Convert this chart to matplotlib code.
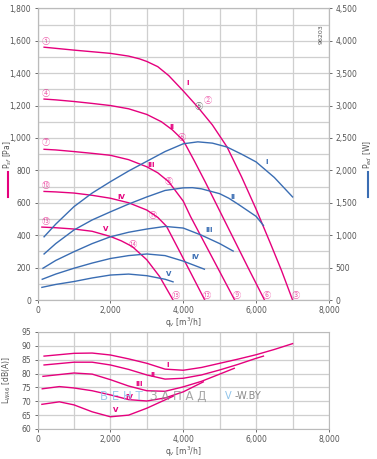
import matplotlib
matplotlib.use("Agg")
import matplotlib.pyplot as plt
from matplotlib.ticker import MultipleLocator, FuncFormatter

PINK = '#e5007d'
BLUE = '#3a6db3'
GRID = '#cfcfcf'
TXT = '#555555'

# pressure curves  q_v [m3/h] -> p_sf [Pa]
q_p1 = [180, 500, 1000, 1500, 2000, 2500, 2800, 3000, 3300, 3600, 4000, 4400, 4800, 5200, 5600, 6000, 6400, 6700, 7000]
p_1 = [1560, 1553, 1542, 1532, 1522, 1505, 1488, 1472, 1440, 1385, 1290, 1190, 1080, 945, 760, 560, 345, 180, 0]
q_p2 = [180, 500, 1000, 1500, 2000, 2500, 3000, 3400, 3700, 4000, 4300, 4600, 5000, 5400, 5800, 6230]
p_2 = [1240, 1235, 1225, 1213, 1200, 1180, 1145, 1100, 1050, 985, 860, 730, 550, 370, 190, 0]
q_p3 = [180, 500, 1000, 1500, 2000, 2500, 3000, 3300, 3600, 4000, 4200, 4600, 5000, 5410]
p_3 = [930, 926, 916, 905, 893, 866, 822, 785, 730, 610, 515, 345, 175, 0]
q_p4 = [180, 500, 1000, 1500, 2000, 2500, 3000, 3300, 3540, 3900, 4200, 4590]
p_4 = [670, 667, 660, 646, 628, 600, 555, 510, 455, 300, 170, 0]
q_p5 = [120, 500, 1000, 1500, 2000, 2300, 2600, 3000, 3350, 3720]
p_5 = [450, 446, 438, 424, 392, 365, 330, 248, 145, 0]

# power curves  q_v -> P_ed [W]
q_w1 = [180, 500, 1000, 1500, 2000, 2500, 3000, 3500, 4000, 4400, 4800, 5200, 5600, 6000, 6500, 7000]
w_1 = [975, 1170, 1440, 1650, 1825, 1990, 2140, 2290, 2410, 2440, 2420, 2360, 2250, 2130, 1890, 1590]
q_w2 = [180, 500, 1000, 1500, 2000, 2500, 3000, 3500, 4000, 4250, 4500, 5000, 5250, 5500, 6000, 6200]
w_2 = [710, 870, 1080, 1235, 1360, 1480, 1590, 1690, 1730, 1733, 1715, 1640, 1570, 1480, 1290, 1150]
q_w3 = [150, 500, 1000, 1500, 2000, 2500, 3000, 3500, 4000, 4500, 5000, 5370]
w_3 = [490, 610, 745, 870, 975, 1045, 1095, 1135, 1110, 1000, 870, 755]
q_w4 = [130, 500, 1000, 1500, 2000, 2500, 3000, 3500, 4000, 4580]
w_4 = [320, 400, 490, 570, 640, 685, 710, 685, 600, 475]
q_w5 = [120, 500, 1000, 1500, 2000, 2500, 3000, 3500, 3720]
w_5 = [195, 240, 285, 340, 385, 400, 375, 320, 280]

# sound power  q_v -> L_WA [dB(A)]
q_l1 = [180, 1000, 1500, 2000, 2500, 3000, 3500, 4000, 4500, 5000, 5500, 6000, 6500, 7000]
l_1 = [86.3, 87.3, 87.4, 86.7, 85.3, 83.7, 81.6, 81.2, 82.2, 83.7, 85.2, 86.8, 88.7, 90.8]
q_l2 = [180, 1000, 1500, 2000, 2500, 3000, 3500, 4000, 4500, 5000, 5500, 6000, 6200]
l_2 = [83.1, 84.1, 84.1, 83.1, 81.5, 79.5, 78.0, 78.3, 79.5, 81.3, 83.3, 85.5, 86.3]
q_l3 = [150, 1000, 1500, 2000, 2500, 3000, 3500, 4000, 4500, 5000, 5400]
l_3 = [79.0, 80.2, 79.8, 77.8, 75.5, 73.8, 73.6, 75.2, 77.2, 79.8, 81.9]
q_l4 = [130, 600, 1000, 1500, 2000, 2500, 3000, 3500, 4000, 4550]
l_4 = [74.5, 75.3, 74.8, 73.8, 72.3, 70.6, 70.1, 71.2, 73.4, 77.0]
q_l5 = [120, 600, 1000, 1500, 2000, 2500, 3000, 3500, 3720]
l_5 = [68.9, 69.8, 68.7, 66.2, 64.4, 65.0, 67.5, 70.5, 71.8]

roman = ['I', 'II', 'III', 'IV', 'V']
lab_p = [(4120, 1340), (3690, 1070), (3130, 832), (2300, 637), (1875, 438)]
lab_w = [(6300, 2130), (5370, 1590), (4710, 1080), (4320, 660), (3590, 400)]
lab_l = [(3570, 83.1), (3160, 79.5), (2790, 76.2), (2530, 71.7), (2150, 66.9)]

start_num = ['①', '④', '⑦', '⑩', '⑬']
start_pos = [(230, 1595), (230, 1275), (230, 970), (230, 708), (220, 487)]
mid_num = ['②', '⑤', '⑧', '⑪', '⑭']
mid_pos = [(4680, 1230), (3950, 1000), (3610, 730), (3160, 520), (2610, 345)]
end_num = ['③', '⑥', '⑨', '⑫', '⑮']
end_pos = [(7080, 25), (6310, 25), (5470, 25), (4640, 25), (3800, 25)]

plt.rcParams['font.family'] = ['DejaVu Sans']
fmt = FuncFormatter(lambda v, p: f"{v:,.0f}")
CIRC = ['Noto Sans CJK SC', 'DejaVu Sans']

fig = plt.figure(figsize=(3.77, 4.59), dpi=100)
ax = fig.add_axes([0.0995, 0.3464, 0.7732, 0.6355])
ax2 = ax.twinx()


def style(a):
    a.tick_params(labelsize=5.5, colors=TXT, length=2.5, width=0.6, pad=2)
    a.tick_params(which='minor', length=0)
    for s in a.spines.values():
        s.set_color('#bbbbbb')
        s.set_linewidth(0.8)


for a in (ax, ax2):
    style(a)

ax.set_xlim(0, 8000)
ax.set_ylim(0, 1800)
ax2.set_ylim(0, 4500)
ax.xaxis.set_major_locator(MultipleLocator(2000))
ax.xaxis.set_minor_locator(MultipleLocator(1000))
ax.yaxis.set_major_locator(MultipleLocator(200))
ax.yaxis.set_minor_locator(MultipleLocator(100))
ax2.yaxis.set_major_locator(MultipleLocator(500))
for a in (ax, ax2):
    a.xaxis.set_major_formatter(fmt)
    a.yaxis.set_major_formatter(fmt)
ax.grid(True, which='both', color=GRID, lw=0.9)
ax.set_axisbelow(True)

pres = [(q_p1, p_1), (q_p2, p_2), (q_p3, p_3), (q_p4, p_4), (q_p5, p_5)]
powr = [(q_w1, w_1), (q_w2, w_2), (q_w3, w_3), (q_w4, w_4), (q_w5, w_5)]
for q, p in pres:
    ax.plot(q, p, color=PINK, lw=1.0, solid_joinstyle='round')
for q, w in powr:
    ax2.plot(q, w, color=BLUE, lw=1.0, solid_joinstyle='round')

for i in range(5):
    ax.text(*lab_p[i], roman[i], color=PINK, fontsize=5, ha='center', va='center', fontweight='bold')
    ax2.text(*lab_w[i], roman[i], color=BLUE, fontsize=5, ha='center', va='center', fontweight='bold')
    ax.text(*start_pos[i], start_num[i], color=PINK, fontsize=6, ha='center', va='center', family=CIRC, alpha=0.6)
    ax.text(*mid_pos[i], mid_num[i], color=PINK, fontsize=6, ha='center', va='center', family=CIRC, alpha=0.6)
    ax.text(*end_pos[i], end_num[i], color=PINK, fontsize=6, ha='center', va='center', family=CIRC, alpha=0.6)
ax.text(4430, 1196, '⑤', color='#777777', fontsize=6, ha='center', va='center', family=CIRC)
ax.text(7770, 1640, '96203', color=TXT, fontsize=4.5, rotation=90, ha='center', va='center')

ax.set_xlabel('q$_v$ [m$^3$/h]', fontsize=5.5, color=TXT, labelpad=0.5)
fig.text(0.021, 0.664, 'P$_{sf}$ [Pa]', rotation=90, fontsize=5.5, color=TXT, ha='center', va='center')
fig.text(0.976, 0.664, 'P$_{ed}$ [W]', rotation=90, fontsize=5.5, color=TXT, ha='center', va='center')
fig.add_artist(plt.Line2D([0.021, 0.021], [0.571, 0.626], color=PINK, lw=1.5))
fig.add_artist(plt.Line2D([0.976, 0.976], [0.571, 0.626], color=BLUE, lw=1.5))

# sound chart
bx = fig.add_axes([0.0995, 0.0654, 0.7732, 0.2113])
style(bx)
bx.set_xlim(0, 8000)
bx.set_ylim(60, 95)
bx.xaxis.set_major_locator(MultipleLocator(2000))
bx.xaxis.set_minor_locator(MultipleLocator(1000))
bx.yaxis.set_major_locator(MultipleLocator(5))
bx.xaxis.set_major_formatter(fmt)
bx.grid(True, which='both', color=GRID, lw=0.9)
bx.set_axisbelow(True)
noise = [(q_l1, l_1), (q_l2, l_2), (q_l3, l_3), (q_l4, l_4), (q_l5, l_5)]
for q, l in noise:
    bx.plot(q, l, color=PINK, lw=1.0, solid_joinstyle='round')
for i in range(5):
    bx.text(*lab_l[i], roman[i], color=PINK, fontsize=5, ha='center', va='center', fontweight='bold')
bx.set_xlabel('q$_v$ [m$^3$/h]', fontsize=5.5, color=TXT, labelpad=0.5)
bx.set_ylabel('L$_{WA6}$ [dB(A)]', fontsize=5.5, color=TXT, labelpad=6)

# watermark
bx.text(1712, 71.9, 'В Е Н Т', color='#8ec3ea', fontsize=8.5, va='center', alpha=0.85)
bx.text(3080, 71.9, 'З А П А Д', color='#8a8a8a', fontsize=8.5, va='center', alpha=0.75)
bx.text(5140, 71.9, 'V', color='#8ec3ea', fontsize=7, va='center')
bx.text(5400, 71.9, '-W.BY', color='#8a8a8a', fontsize=7, va='center')

fig.savefig('out.png', dpi=100)
